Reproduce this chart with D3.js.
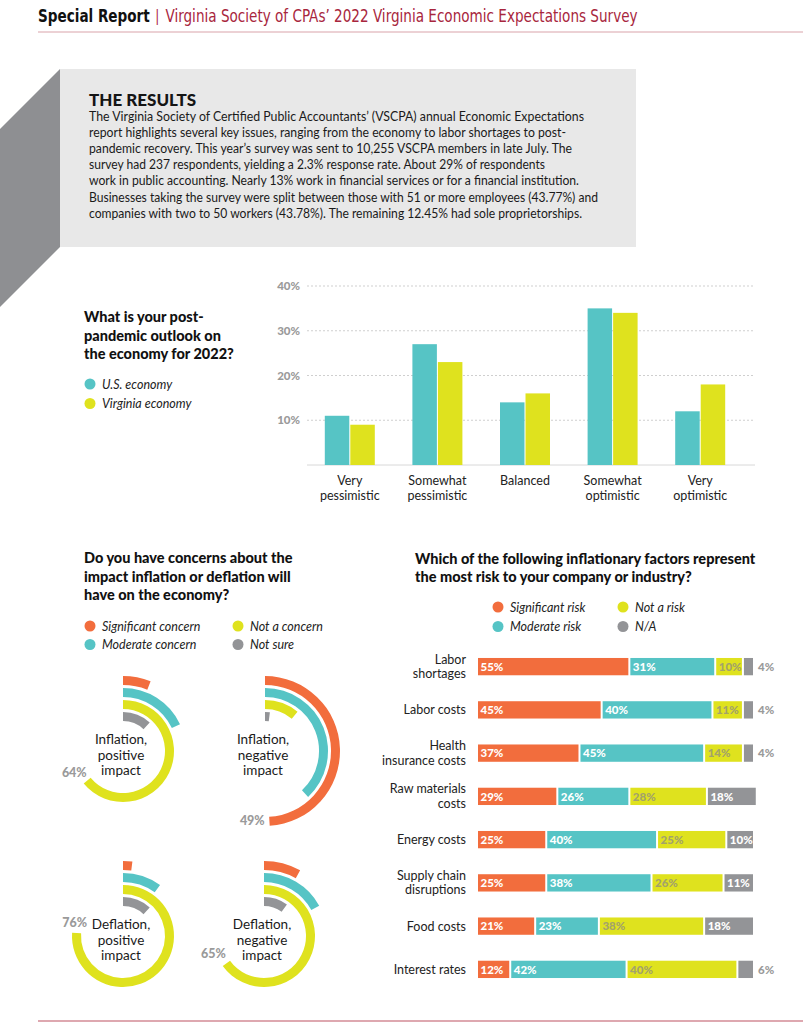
<!DOCTYPE html>
<html>
<head>
<meta charset="utf-8">
<script src="https://cdn.jsdelivr.net/npm/d3@7"></script>
<style>
  body { margin: 0; background: #fff; }
  svg { display: block; }
</style>
</head>
<body>
<div id="page"></div>
<script>
// ---- data ----
var outlookCategories = [["Very", "pessimistic"], ["Somewhat", "pessimistic"], ["Balanced"], ["Somewhat", "optimistic"], ["Very", "optimistic"]];
var usEconomy = [11, 27, 14, 35, 12];
var vaEconomy = [9, 23, 16, 34, 18];
var outlookTicks = [10, 20, 30, 40];

var concernCharts = [["Inflation,", "positive", "impact"], ["Inflation,", "negative", "impact"], ["Deflation,", "positive", "impact"], ["Deflation,", "negative", "impact"]];
var concernSignificant = [6, 49, 2, 8];
var concernModerate = [18, 38, 10, 17];
var concernNot = [64, 11, 76, 65];
var concernNotSure = [12, 2, 12, 10];
var concernLabelKey = ["not", "significant", "not", "not"];

var riskFactors = [["Labor", "shortages"], ["Labor costs"], ["Health", "insurance costs"], ["Raw materials", "costs"], ["Energy costs"], ["Supply chain", "disruptions"], ["Food costs"], ["Interest rates"]];
var riskSignificant = [55, 45, 37, 29, 25, 25, 21, 12];
var riskModerate = [31, 40, 45, 26, 40, 38, 23, 42];
var riskNot = [10, 11, 14, 28, 25, 26, 38, 40];
var riskNA = [4, 4, 4, 18, 10, 11, 18, 6];

// ---- styles ----
var orange = "#f26d3d", teal = "#56c4c5", yellow = "#dfe21e", grey = "#939497";
var red = "#a8263d";
var headFont = "Lato, 'Open Sans', sans-serif";
var narrow = "'Liberation Sans Narrow', 'DejaVu Sans Condensed', 'Roboto', sans-serif";

var W = 803, H = 1024;
var svg = d3.select("#page").append("svg").attr("width", W).attr("height", H);

// ---- header (squeezed horizontally to the reference width) ----
var headG = svg.append("g");
var sr = headG.append("text").attr("x", 0).attr("y", 22)
  .attr("font-family", narrow).attr("font-weight", "bold").attr("font-size", 17)
  .attr("fill", "#111").text("Special Report");
var srEnd = sr.node().getComputedTextLength();
var bar = headG.append("text").attr("x", srEnd + 6).attr("y", 21)
  .attr("font-family", narrow).attr("font-size", 15).attr("fill", red).text("|");
var barEnd = srEnd + 6 + bar.node().getComputedTextLength();
var rt = headG.append("text").attr("x", barEnd + 7).attr("y", 22)
  .attr("font-family", narrow).attr("font-size", 17)
  .attr("fill", red).text("Virginia Society of CPAs\u2019 2022 Virginia Economic Expectations Survey");
var headW = barEnd + 7 + rt.node().getComputedTextLength();
headG.attr("transform", "translate(38,0) scale(" + (600 / headW) + ",1)");

svg.append("line").attr("x1", 38).attr("x2", W).attr("y1", 32).attr("y2", 32)
  .attr("stroke", "#d9a3aa").attr("stroke-width", 1);
svg.append("line").attr("x1", 38).attr("x2", W).attr("y1", 1021).attr("y2", 1021)
  .attr("stroke", "#d38b96").attr("stroke-width", 1.5);

// ---- results box ----
svg.append("polygon").attr("points", "60,69 60,247 0,307 0,129").attr("fill", "#8e8f92");
svg.append("rect").attr("x", 60).attr("y", 69).attr("width", 576).attr("height", 178).attr("fill", "#e8e8e8");
svg.append("text").attr("x", 89).attr("y", 106)
  .attr("font-family", headFont).attr("font-weight", 900).attr("font-size", 17)
  .attr("fill", "#151515").text("THE RESULTS");

var bodyLines = [
  "The Virginia Society of Certified Public Accountants\u2019 (VSCPA) annual Economic Expectations",
  "report highlights several key issues, ranging from the economy to labor shortages to post-",
  "pandemic recovery. This year\u2019s survey was sent to 10,255 VSCPA members in late July. The",
  "survey had 237 respondents, yielding a 2.3% response rate. About 29% of respondents",
  "work in public accounting. Nearly 13% work in financial services or for a financial institution.",
  "Businesses taking the survey were split between those with 51 or more employees (43.77%) and",
  "companies with two to 50 workers (43.78%). The remaining 12.45% had sole proprietorships."
];
var bodyEnds = [584, 566, 572, 545, 579, 598, 582];
svg.append("g").selectAll("text").data(bodyLines).join("text")
  .attr("x", 89).attr("y", function(d, i) { return 121 + i * 16.1; })
  .attr("font-family", headFont).attr("font-size", 12.5).attr("fill", "#1a1a1a")
  .attr("textLength", function(d, i) { return bodyEnds[i] - 89; })
  .attr("lengthAdjust", "spacingAndGlyphs")
  .text(function(d) { return d; });

// ---- helpers ----
function multiLine(g, lines, x, y, lh, opts) {
  var t = g.append("text").attr("x", x).attr("y", y)
    .attr("font-family", opts.family || headFont)
    .attr("font-size", opts.size)
    .attr("font-weight", opts.weight || "normal")
    .attr("fill", opts.fill || "#111")
    .attr("text-anchor", opts.anchor || "start");
  lines.forEach(function(l, i) {
    t.append("tspan").attr("x", x).attr("dy", i === 0 ? 0 : lh).text(l);
  });
  return t;
}
function legend(g, items, x, y) {
  items.forEach(function(it) {
    g.append("circle").attr("cx", it[2] + x).attr("cy", it[3] + y).attr("r", 5.5).attr("fill", it[1]);
    g.append("text").attr("x", it[2] + x + 12).attr("y", it[3] + y + 4.5)
      .attr("font-family", headFont).attr("font-style", "italic").attr("font-size", 12.5)
      .attr("fill", "#222").text(it[0]);
  });
}

// ---- outlook bar chart ----
var g1 = svg.append("g");
multiLine(g1, ["What is your post-", "pandemic outlook on", "the economy for 2022?"], 84, 322, 18.5,
  { size: 14.5, weight: 900 });
legend(g1, [["U.S. economy", teal, 0, 0], ["Virginia economy", yellow, 0, 19.5]], 90, 384);

var yOut = d3.scaleLinear().domain([0, 40]).range([465, 286]);
var x0 = d3.scaleBand().domain(d3.range(outlookCategories.length)).range([306, 744]);
var x1 = d3.scaleBand().domain(["us", "va"]).range([0, 50]).paddingInner(0.04);

g1.append("g").selectAll("line").data(outlookTicks).join("line")
  .attr("x1", 307).attr("x2", 755)
  .attr("y1", function(d) { return yOut(d); }).attr("y2", function(d) { return yOut(d); })
  .attr("stroke", "#cfcfcf").attr("stroke-dasharray", "2,2");
g1.append("line").attr("x1", 307).attr("x2", 755).attr("y1", yOut(0)).attr("y2", yOut(0))
  .attr("stroke", "#d8d8d8");
g1.append("g").selectAll("text").data(outlookTicks).join("text")
  .attr("x", 300).attr("y", function(d) { return yOut(d) + 4; })
  .attr("text-anchor", "end").attr("font-family", headFont).attr("font-weight", 900)
  .attr("font-size", 11.5).attr("fill", "#9a9a9a")
  .text(function(d) { return d + "%"; });

var groups = g1.append("g").selectAll("g").data(outlookCategories).join("g")
  .attr("transform", function(d, i) { return "translate(" + (x0(i) + x0.bandwidth() / 2 - 25) + ",0)"; });
groups.each(function(d, i) {
  var gg = d3.select(this);
  [["us", usEconomy[i], teal], ["va", vaEconomy[i], yellow]].forEach(function(b) {
    gg.append("rect").attr("x", x1(b[0])).attr("width", x1.bandwidth())
      .attr("y", yOut(b[1])).attr("height", yOut(0) - yOut(b[1])).attr("fill", b[2]);
  });
  multiLine(gg, d, 25, 485, 15, { size: 12.5, anchor: "middle", fill: "#222" });
});

// ---- concern radial charts ----
var g2 = svg.append("g");
multiLine(g2, ["Do you have concerns about the", "impact inflation or deflation will", "have on the economy?"], 84, 563, 18.5,
  { size: 14.5, weight: 900 });
legend(g2, [["Significant concern", orange, 0, 0], ["Moderate concern", teal, 0, 18.5],
  ["Not a concern", yellow, 148, 0], ["Not sure", grey, 148, 18.5]], 90, 626);

var centers = [[123, 751], [265, 751], [123, 936], [264, 936]];
var labelNudge = [[3, -7], [-5, -1], [15, -6], [3, -8]];
var rings = [
  { key: "significant", vals: concernSignificant, color: orange, r: 75 },
  { key: "moderate", vals: concernModerate, color: teal, r: 63 },
  { key: "not", vals: concernNot, color: yellow, r: 51 },
  { key: "notsure", vals: concernNotSure, color: grey, r: 39 }
];
var ringW = 9;
var arc = d3.arc();
var ang = d3.scaleLinear().domain([0, 100]).range([0, 2 * Math.PI]);

concernCharts.forEach(function(title, i) {
  var c = centers[i];
  var gg = g2.append("g").attr("transform", "translate(" + c[0] + "," + c[1] + ")");
  rings.forEach(function(rg) {
    gg.append("path").attr("d", arc({ innerRadius: rg.r - ringW, outerRadius: rg.r, startAngle: 0, endAngle: ang(rg.vals[i]) }))
      .attr("fill", rg.color);
  });
  multiLine(gg, title, -2, -7, 15.5, { size: 13.5, anchor: "middle", fill: "#1a1a1a" });
  var rk = rings.filter(function(r) { return r.key === concernLabelKey[i]; })[0];
  var a = ang(rk.vals[i]);
  var px = rk.r * Math.sin(a), py = -rk.r * Math.cos(a);
  gg.append("text").attr("x", px + labelNudge[i][0]).attr("y", py + labelNudge[i][1])
    .attr("text-anchor", "end").attr("font-family", headFont).attr("font-weight", 900)
    .attr("font-size", 12.5).attr("fill", "#9a9a9a").text(rk.vals[i] + "%");
});

// ---- risk stacked bars ----
var g3 = svg.append("g");
multiLine(g3, ["Which of the following inflationary factors represent", "the most risk to your company or industry?"], 415, 564, 17.5,
  { size: 14.5, weight: 900 });
legend(g3, [["Significant risk", orange, 0, 0], ["Moderate risk", teal, 0, 19.5],
  ["Not a risk", yellow, 125, 0], ["N/A", grey, 125, 19.5]], 498, 607);

var keys = ["significant", "moderate", "not", "na"];
var keyColor = { significant: orange, moderate: teal, not: yellow, na: grey };
var keyText = { significant: "#fff", moderate: "#fff", not: "#a3a36a", na: "#fff" };
var rows = riskFactors.map(function(f, i) {
  return { i: i, significant: riskSignificant[i], moderate: riskModerate[i], not: riskNot[i], na: riskNA[i] };
});
var stack = d3.stack().keys(keys)(rows);
var xr = d3.scaleLinear().domain([0, 100]).range([477, 754]);
var yr = d3.scaleBand().domain(d3.range(riskFactors.length)).range([645, 991]).paddingInner(0.6).paddingOuter(0.3);

var layers = g3.append("g").selectAll("g").data(stack).join("g");
layers.each(function(layer) {
  var lg = d3.select(this);
  lg.selectAll("rect").data(layer).join("rect")
    .attr("x", function(d) { return xr(d[0]) + 1; })
    .attr("width", function(d) { return Math.max(0, xr(d[1]) - xr(d[0]) - 2); })
    .attr("y", function(d, i) { return yr(i); })
    .attr("height", yr.bandwidth())
    .attr("fill", keyColor[layer.key]);
  lg.selectAll("text").data(layer).join("text")
    .attr("x", function(d) {
      var w = xr(d[1]) - xr(d[0]);
      return w < 20 ? xr(d[1]) + 4 : xr(d[0]) + 3.5;
    })
    .attr("y", function(d, i) { return yr(i) + yr.bandwidth() / 2 + 4.3; })
    .attr("font-family", headFont).attr("font-weight", 900).attr("font-size", 11.5)
    .attr("fill", function(d) { return (xr(d[1]) - xr(d[0])) < 20 ? "#9a9a9a" : keyText[layer.key]; })
    .text(function(d) { return (d[1] - d[0]) + "%"; });
});

g3.append("g").selectAll("g").data(riskFactors).join("g").each(function(d, i) {
  var cy = yr(i) + yr.bandwidth() / 2;
  var y0 = d.length === 1 ? cy + 4.5 : cy - 3;
  multiLine(d3.select(this), d, 466, y0, 14.5, { size: 12.5, anchor: "end", fill: "#222" });
});
</script>
</body>
</html>
